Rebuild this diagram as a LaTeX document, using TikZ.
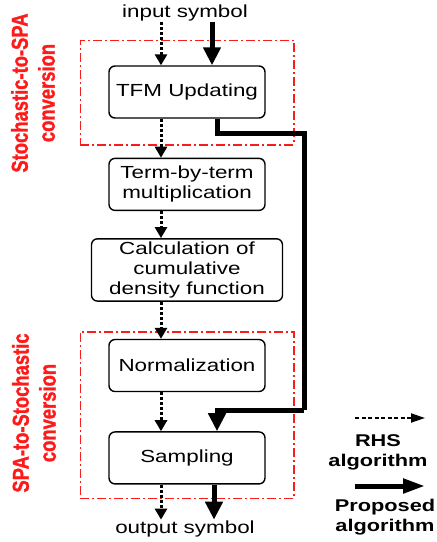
\documentclass[tikz,border=0pt]{standalone}
\usepackage{fontspec}
\setmainfont[FakeStretch=1.28]{Liberation Sans}
\newfontfamily\convfont[FakeStretch=0.8,BoldFeatures={FakeBold=1.2}]{Liberation Sans}
\usepackage{xcolor}
\definecolor{convred}{HTML}{FF1A1A}
\usepackage{tikz}
\usetikzlibrary{arrows.meta,positioning,fit,calc}
\tikzset{
  procbox/.style={draw,line width=1.4pt,rounded corners=6pt,minimum width=156pt,minimum height=52pt,inner sep=3pt,align=center,font=\fontsize{17.5}{20}\selectfont},
  rhsflow/.style={-{Triangle[length=11pt,width=12pt]},line width=3pt,dash pattern=on 3pt off 2pt},
  propflow/.style={-{Triangle[length=18pt,width=17pt]},line width=5pt},
  legrhs/.style={-{Triangle[length=14pt,width=9pt]},line width=1.8pt,dash pattern=on 4pt off 2.5pt},
  legprop/.style={-{Triangle[length=22pt,width=14pt]},line width=5pt},
  convbox/.style={draw=convred,line width=1.6pt,dash pattern=on 9pt off 3pt on 2pt off 3pt,inner sep=0pt},
  convlabel/.style={text=convred,font=\convfont\bfseries\fontsize{23}{27}\selectfont,align=center,rotate=90},
  symlabel/.style={inner sep=1pt,font=\fontsize{17.5}{20}\selectfont},
  leglabel/.style={align=center,font=\bfseries\fontsize{17}{20}\selectfont},
}
\begin{document}
\begin{tikzpicture}[x=1pt,y=-1pt]
\useasboundingbox (0,0) rectangle (437,542);
% processing chain
\node[procbox] (tfm) at (187,92) {TFM Updating};
\node[procbox,below=39pt of tfm] (term) {Term-by-term\\multiplication};
\node[procbox,minimum width=191pt,below=27pt of term] (cdf) {Calculation of\\cumulative\\density function};
\node[procbox,below=37pt of cdf] (norm) {Normalization};
\node[procbox,below=39pt of norm] (samp) {Sampling};
\node[symlabel] (in) at (185,13) {input symbol};
\node[symlabel] (out) at (185,529) {output symbol};
% conversion blocks
\node[convbox,fit={([xshift=-28pt,yshift=25pt]tfm.north west) ([xshift=28pt,yshift=-26pt]tfm.south east)}] (sto2spa) {};
\node[convbox,fit={([xshift=-28pt,yshift=7pt]norm.north west) ([xshift=28pt,yshift=-14pt]samp.south east)}] (spa2sto) {};
\node[convlabel] (sto2spalab) at (33,93) {Stochastic-to-SPA\\conversion};
\node[convlabel] (spa2stolab) at (34,413) {SPA-to-Stochastic\\conversion};
% RHS flow
\draw[rhsflow] ([xshift=-26pt]tfm.north |- in.south) -- ([xshift=-26pt]tfm.north);
\draw[rhsflow] ([xshift=-26pt]tfm.south) -- ([xshift=-26pt]term.north);
\draw[rhsflow] ([xshift=-26pt]term.south) -- ([xshift=-26pt]cdf.north);
\draw[rhsflow] ([xshift=-26pt]cdf.south) -- ([xshift=-26pt]norm.north);
\draw[rhsflow] ([xshift=-26pt]norm.south) -- ([xshift=-26pt]samp.north);
\draw[rhsflow] ([xshift=-26pt]samp.south) -- ([xshift=-26pt]samp.south |- out.north);
% proposed flow
\coordinate (turn1) at (304,133);
\coordinate (turn2) at (304,410);
\draw[propflow] ([xshift=25pt]tfm.north |- in.south) -- ([xshift=25pt]tfm.north);
\draw[propflow,-] ([xshift=30pt]tfm.south) |- (turn1) -- (turn2);
\draw[propflow] (turn2) -| ([xshift=30pt]samp.north);
\draw[propflow] ([xshift=27pt]samp.south) -- ([xshift=27pt]samp.south |- out.north);
% legend
\coordinate (rhsA) at (355,418);
\coordinate (rhsB) at (425,418);
\coordinate (propA) at (355,486);
\coordinate (propB) at (425,486);
\draw[legrhs] (rhsA) -- (rhsB);
\draw[legprop] (propA) -- (propB);
\node[leglabel] (rhslab) at (378,452) {RHS\\algorithm};
\node[leglabel] (proplab) at (385,517) {Proposed\\algorithm};
\end{tikzpicture}
\end{document}
